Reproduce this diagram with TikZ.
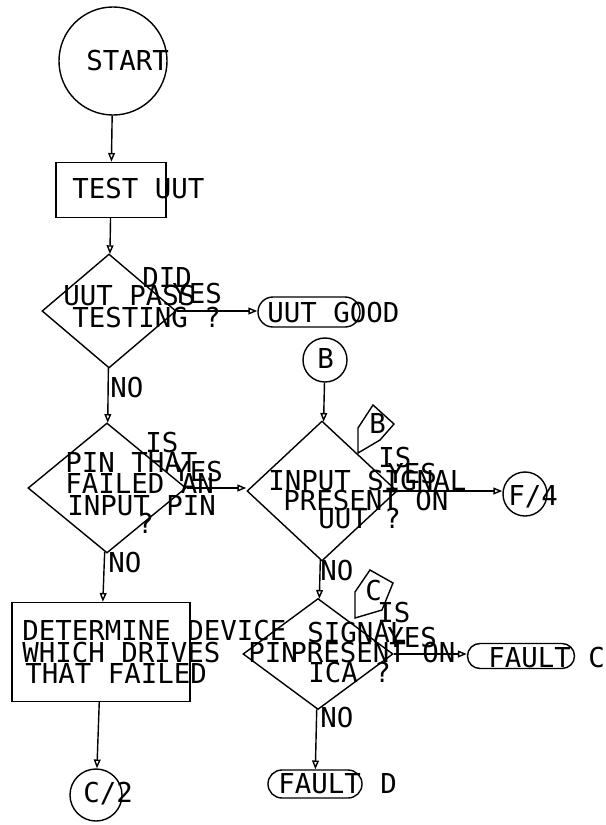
\documentclass[tikz,border=0pt]{standalone}
\usepackage{fontspec}
\newfontfamily\plotfont{DejaVu Sans Mono}
\usetikzlibrary{arrows.meta,shapes.geometric,shapes.misc}

\begin{document}
\begin{tikzpicture}[
    x=0.025cm, y=-0.025cm,
    every node/.style={inner sep=0pt},
    outline/.style={draw, line width=1pt},
    box/.style={outline, rectangle},
    decision/.style={outline, diamond},
    connector/.style={outline, circle},
    terminal/.style={outline, rounded rectangle},
    lbl/.style={font=\plotfont\fontsize{19.5}{20}\selectfont, anchor=base west},
    flow/.style={-{Triangle[open,length=2.2mm,width=1.7mm]}, line width=1pt}
]
\useasboundingbox (0,0) rectangle (606,825);

\node[connector, minimum size=2.7cm] (start) at (113,61) {};
\node[box, minimum width=2.75cm, minimum height=1.375cm] (test) at (111,190) {};
\node[decision, minimum width=3.35cm, minimum height=2.85cm] (pass) at (109,311) {};
\node[terminal, minimum width=2.55cm, minimum height=0.75cm] (good) at (309,312) {};
\node[decision, minimum width=3.95cm, minimum height=3.25cm] (input) at (107,488) {};
\node[box, minimum width=4.45cm, minimum height=2.475cm] (determine) at (101,652) {};
\node[connector, minimum size=1.3cm] (ctwo) at (96,795) {};
\node[connector, minimum size=1.1cm] (bin) at (325,360) {};
\node[decision, minimum width=3.75cm, minimum height=3.5cm] (present) at (322,491) {};
\node[connector, minimum size=1.1cm] (ffour) at (525,494) {};
\node[decision, minimum width=3.75cm, minimum height=2.775cm] (ica) at (318,654) {};
\node[terminal, minimum width=2.675cm, minimum height=0.625cm] (faultc) at (521,656) {};
\node[terminal, minimum width=2.35cm, minimum height=0.7cm] (faultd) at (315,784) {};

% off-page tags on the decisions
\draw[line width=1pt] (358,453) -- (358,428) -- (373,405) -- (394,424) -- (380,440) -- cycle;
\draw[line width=1pt] (355,618) -- (355,592) -- (370,570) -- (393,583) -- (382,610) -- cycle;

\draw[flow] (start) -- (test);
\draw[flow] (test) -- (pass);
\draw[flow] (pass.east) -- (pass.east -| good.west);
\draw[flow] (pass) -- (input);
\draw[flow] (input.east) -- (input.east -| present.west);
\draw[flow] (input) -- (determine);
\draw[flow] (determine) -- (ctwo);
\draw[flow] (bin) -- (present);
\draw[flow] (present.east) -- (present.east -| ffour.west);
\draw[flow] (present) -- (ica);
\draw[flow] (ica.east) -- (ica.east -| faultc.west);
\draw[flow] (ica) -- (faultd);

\node[lbl] (l-start) at (86,70) {START};
\node[lbl] (l-test) at (72,198) {TEST UUT};
\node[lbl] (l-did) at (142,287) {DID};
\node[lbl] (l-uut) at (63,305) {UUT PASS};
\node[lbl] (l-testing) at (72,327) {TESTING ?};
\node[lbl] (y-pass) at (172,303) {YES};
\node[lbl] (l-good) at (267,322) {UUT GOOD};
\node[lbl] (n-pass) at (110,397) {NO};
\node[lbl] (l-is) at (145,452) {IS};
\node[lbl] (l-pin) at (65,472) {PIN THAT};
\node[lbl] (l-failed) at (65,493) {FAILED AN};
\node[lbl] (l-inpin) at (67,515) {INPUT PIN};
\node[lbl] (l-q) at (137,533) {?};
\node[lbl] (y-input) at (173,481) {YES};
\node[lbl] (n-input) at (108,572) {NO};
\node[lbl] (l-b) at (317,368) {B};
\node[lbl] (l-btag) at (369,433) {B};
\node[lbl] (l-is2) at (378,467) {IS};
\node[lbl] (l-signal) at (268,490) {INPUT SIGNAL};
\node[lbl] (l-present) at (283,510) {PRESENT ON};
\node[lbl] (l-uutq) at (318,528) {UUT ?};
\node[lbl] (y-present) at (387,483) {YES};
\node[lbl] (l-ffour) at (508,505) {F/4};
\node[lbl] (n-present) at (320,580) {NO};
\node[lbl] (l-det) at (22,640) {DETERMINE DEVICE};
\node[lbl] (l-which) at (22,662) {WHICH DRIVES};
\node[lbl] (l-pin2) at (248,662) {PIN};
\node[lbl] (l-that) at (25,683) {THAT FAILED};
\node[lbl] (l-ctwo) at (83,802) {C/2};
\node[lbl] (l-ctag) at (365,600) {C};
\node[lbl] (l-is3) at (377,622) {IS};
\node[lbl] (l-signal2) at (307,642) {SIGNAL};
\node[lbl] (l-present2) at (290,662) {PRESENT ON};
\node[lbl] (l-ica) at (308,682) {ICA ?};
\node[lbl] (y-ica) at (387,647) {YES};
\node[lbl] (l-faultc) at (488,667) {FAULT};
\node[lbl] (l-c) at (588,667) {C};
\node[lbl] (n-ica) at (320,727) {NO};
\node[lbl] (l-faultd) at (278,793) {FAULT};
\node[lbl] (l-d) at (380,793) {D};
\end{tikzpicture}
\end{document}
